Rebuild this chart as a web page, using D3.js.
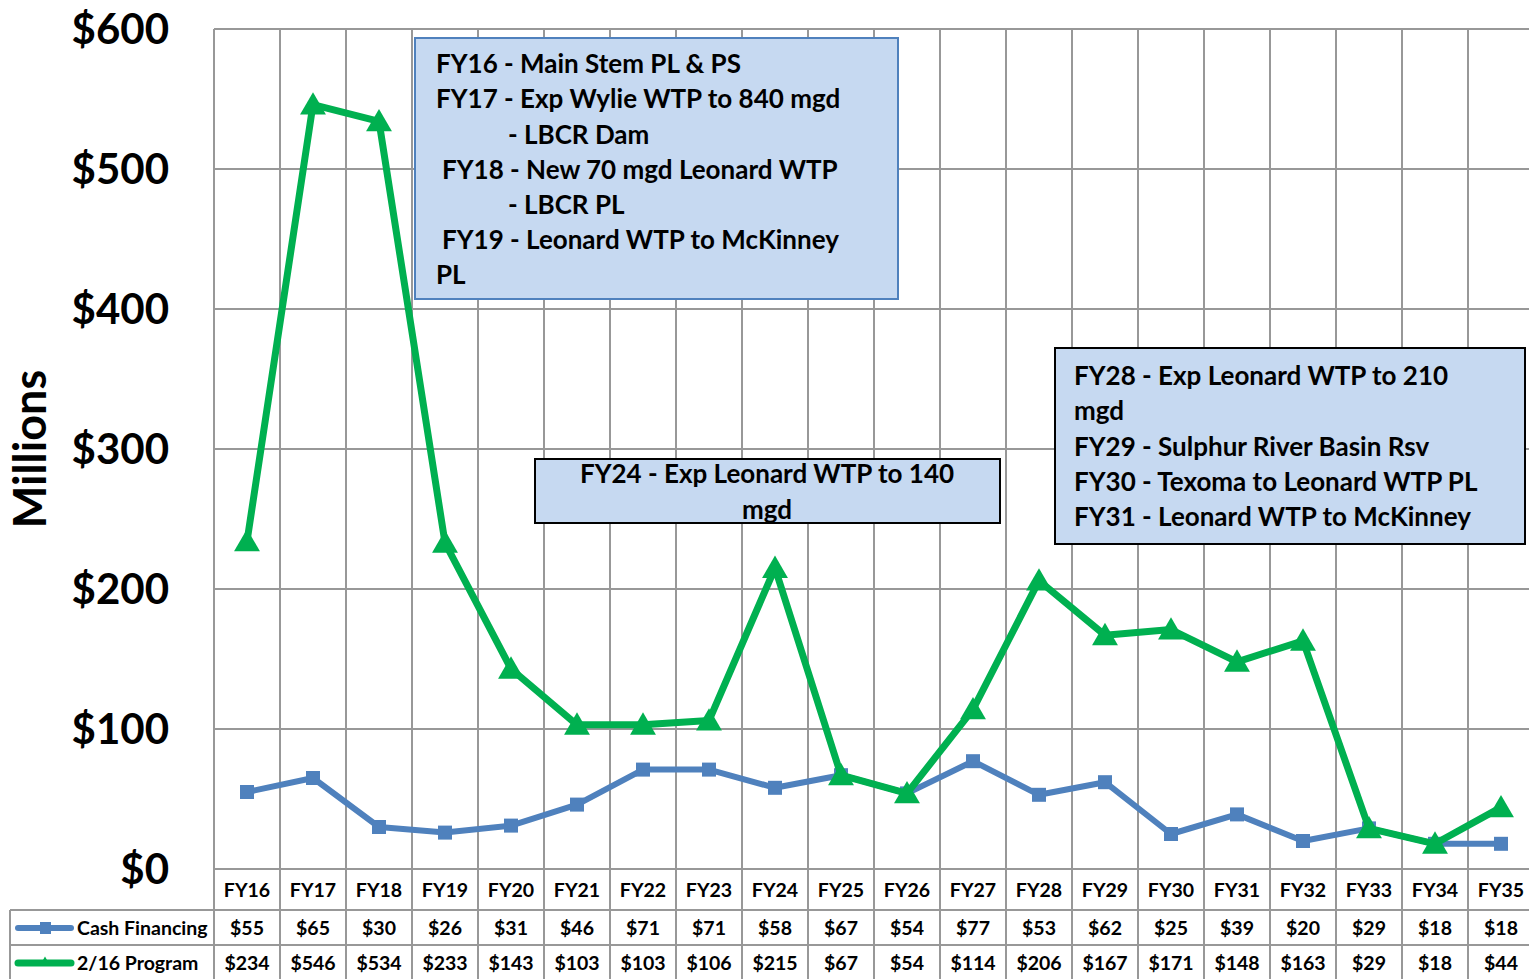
<!DOCTYPE html>
<html>
<head>
<meta charset="utf-8">
<script src="https://cdn.jsdelivr.net/npm/d3@7"></script>
<style>
  body { margin: 0; background: #fff; }
  svg { display: block; font-family: Lato, "Open Sans", sans-serif; font-weight: bold; }
</style>
</head>
<body>
<div id="chart"></div>
<script>
var categories = ["FY16","FY17","FY18","FY19","FY20","FY21","FY22","FY23","FY24","FY25","FY26","FY27","FY28","FY29","FY30","FY31","FY32","FY33","FY34","FY35"];
var cashFinancing = [55,65,30,26,31,46,71,71,58,67,54,77,53,62,25,39,20,29,18,18];
var program216 = [234,546,534,233,143,103,103,106,215,67,54,114,206,167,171,148,163,29,18,44];
var yTicks = [0,100,200,300,400,500,600];

var box1Lines = [
    {t: "FY16 - Main Stem PL & PS", dx: 0},
    {t: "FY17 - Exp Wylie WTP to 840 mgd", dx: 0},
    {t: "- LBCR Dam", dx: 72},
    {t: "FY18 - New 70 mgd Leonard WTP", dx: 6},
    {t: "- LBCR PL", dx: 72},
    {t: "FY19 - Leonard WTP to McKinney", dx: 6},
    {t: "PL", dx: 0}
];
var box2Lines = ["FY24 - Exp Leonard WTP to 140", "mgd"];
var box3Lines = ["FY28 - Exp Leonard WTP to 210", "mgd", "FY29 - Sulphur River Basin Rsv", "FY30 - Texoma to Leonard WTP PL", "FY31 - Leonard WTP to McKinney"];

var W = 1529, H = 979;
var plotLeft = 214, plotTop = 29, plotBottom = 869, plotRight = 214 + 66 * categories.length;
var gridColor = "#989898";
var green = "#00b050", blue = "#4f81bd";
var boxFont = 26;

var svg = d3.select("#chart").append("svg")
    .attr("width", W)
    .attr("height", H);

var x = d3.scaleBand().domain(categories).range([plotLeft, plotRight]);
var y = d3.scaleLinear().domain([0, 600]).range([plotBottom, plotTop]);

// horizontal grid
svg.append("g").selectAll("line")
    .data(yTicks)
    .enter().append("line")
        .attr("x1", plotLeft).attr("x2", plotRight)
        .attr("y1", d => y(d)).attr("y2", d => y(d))
        .attr("stroke", gridColor).attr("stroke-width", 2);

// vertical grid, running down through the data table
var edges = categories.map(c => x(c)).concat([plotRight]);
svg.append("g").selectAll("line")
    .data(edges)
    .enter().append("line")
        .attr("x1", d => d).attr("x2", d => d)
        .attr("y1", plotTop).attr("y2", H)
        .attr("stroke", gridColor).attr("stroke-width", 2);

// table row borders
var rowLines = [910, 945];
svg.append("g").selectAll("line")
    .data(rowLines)
    .enter().append("line")
        .attr("x1", 10).attr("x2", plotRight)
        .attr("y1", d => d).attr("y2", d => d)
        .attr("stroke", gridColor).attr("stroke-width", 2);
svg.append("line")
    .attr("x1", 10).attr("x2", 10).attr("y1", 910).attr("y2", H)
    .attr("stroke", gridColor).attr("stroke-width", 2);

// y tick labels
svg.append("g").selectAll("text")
    .data(yTicks)
    .enter().append("text")
        .attr("x", 169)
        .attr("y", d => y(d))
        .attr("dy", "0.36em")
        .attr("text-anchor", "end")
        .attr("font-size", 42)
        .text(d => "$" + d);

svg.append("text")
    .attr("transform", "translate(46,449) rotate(-90)")
    .attr("text-anchor", "middle")
    .attr("font-size", 45)
    .text("Millions");

// annotation boxes
function addBox(x0, y0, w, h, stroke) {
    svg.append("rect")
        .attr("x", x0).attr("y", y0)
        .attr("width", w).attr("height", h)
        .attr("fill", "#c6d9f1")
        .attr("stroke", stroke).attr("stroke-width", 2);
}
addBox(415, 38, 483, 261, "#4f81bd");
svg.append("g").selectAll("text")
    .data(box1Lines)
    .enter().append("text")
        .attr("x", d => 436 + d.dx)
        .attr("y", (d, i) => 64 + i * 35.2)
        .attr("dy", "0.35em")
        .attr("font-size", boxFont)
        .text(d => d.t);

addBox(535, 459, 465, 64, "#000");
svg.append("g").selectAll("text")
    .data(box2Lines)
    .enter().append("text")
        .attr("x", 767)
        .attr("y", (d, i) => 474 + i * 35.5)
        .attr("dy", "0.35em")
        .attr("text-anchor", "middle")
        .attr("font-size", boxFont)
        .text(d => d);

addBox(1055, 348, 470, 196, "#000");
svg.append("g").selectAll("text")
    .data(box3Lines)
    .enter().append("text")
        .attr("x", 1074)
        .attr("y", (d, i) => 376 + i * 35.3)
        .attr("dy", "0.35em")
        .attr("font-size", boxFont)
        .text(d => d);

// series lines
var cx = d => x(d) + x.bandwidth() / 2;
var line = d3.line().x(d => cx(d.cat)).y(d => y(d.v));

var cashData = categories.map((c, i) => ({cat: c, v: cashFinancing[i]}));
var progData = categories.map((c, i) => ({cat: c, v: program216[i]}));

svg.append("path")
    .datum(cashData)
    .attr("d", line)
    .attr("fill", "none")
    .attr("stroke", blue).attr("stroke-width", 6)
    .attr("stroke-linejoin", "round");
svg.append("g").selectAll("rect")
    .data(cashData)
    .enter().append("rect")
        .attr("x", d => cx(d.cat) - 7).attr("y", d => y(d.v) - 7)
        .attr("width", 14).attr("height", 14)
        .attr("fill", blue);

svg.append("path")
    .datum(progData)
    .attr("d", line)
    .attr("fill", "none")
    .attr("stroke", green).attr("stroke-width", 7)
    .attr("stroke-linejoin", "round");
var tri = d3.symbol().type(d3.symbolTriangle).size(290);
svg.append("g").selectAll("path")
    .data(progData)
    .enter().append("path")
        .attr("transform", d => "translate(" + cx(d.cat) + "," + (y(d.v) + 2.5) + ")")
        .attr("d", tri)
        .attr("fill", green);

// data table
var tableFont = 19.5;
svg.append("g").selectAll("text")
    .data(categories)
    .enter().append("text")
        .attr("x", d => cx(d)).attr("y", 890)
        .attr("dy", "0.35em")
        .attr("text-anchor", "middle")
        .attr("font-size", tableFont)
        .text(d => d);

svg.append("g").selectAll("text")
    .data(cashData)
    .enter().append("text")
        .attr("x", d => cx(d.cat)).attr("y", 928)
        .attr("dy", "0.35em")
        .attr("text-anchor", "middle")
        .attr("font-size", tableFont)
        .text(d => "$" + d.v);

svg.append("g").selectAll("text")
    .data(progData)
    .enter().append("text")
        .attr("x", d => cx(d.cat)).attr("y", 963)
        .attr("dy", "0.35em")
        .attr("text-anchor", "middle")
        .attr("font-size", tableFont)
        .text(d => "$" + d.v);

// legend keys in table
svg.append("line")
    .attr("x1", 18).attr("x2", 71).attr("y1", 928).attr("y2", 928)
    .attr("stroke", blue).attr("stroke-width", 6).attr("stroke-linecap", "round");
svg.append("rect")
    .attr("x", 40).attr("y", 922).attr("width", 11).attr("height", 12).attr("fill", blue);
svg.append("text")
    .attr("x", 77).attr("y", 928).attr("dy", "0.35em")
    .attr("font-size", tableFont).text("Cash Financing");

svg.append("line")
    .attr("x1", 18).attr("x2", 71).attr("y1", 963).attr("y2", 963)
    .attr("stroke", green).attr("stroke-width", 7).attr("stroke-linecap", "round");
svg.append("path")
    .attr("transform", "translate(45,962)")
    .attr("d", d3.symbol().type(d3.symbolTriangle).size(40))
    .attr("fill", green);
svg.append("text")
    .attr("x", 77).attr("y", 963).attr("dy", "0.35em")
    .attr("font-size", tableFont).text("2/16 Program");
</script>
</body>
</html>
